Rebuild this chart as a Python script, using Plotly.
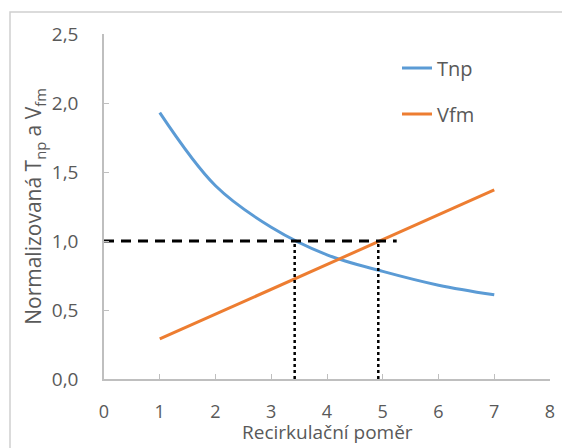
import plotly.graph_objects as go

x_ratio = [1, 2, 3, 4, 5, 6, 7]
tnp = [1.93, 1.40, 1.10, 0.90, 0.78, 0.68, 0.61]
vfm = [0.29, 0.47, 0.65, 0.83, 1.01, 1.19, 1.37]

ref_x = [0, 5.25]
ref_y = [1.0, 1.0]
cross_tnp = 3.42
cross_vfm = 4.92

x_title = "Recirkulační poměr"
y_title = "Normalizovaná T<sub>np</sub> a V<sub>fm</sub>"

W, H = 562, 448
L, R, T, B = 104, 12, 34, 69
pw, ph = W - L - R, H - T - B

FONT = "Open Sans, sans-serif"
GREY = "#595959"

fig = go.Figure()
fig.add_trace(go.Scatter(x=x_ratio, y=tnp, mode="lines", name="Tnp", legend="legend",
                         line=dict(color="#5B9BD5", width=3, shape="spline")))
fig.add_trace(go.Scatter(x=x_ratio, y=vfm, mode="lines", name="Vfm", legend="legend2",
                         line=dict(color="#ED7D31", width=3)))
fig.add_trace(go.Scatter(x=ref_x, y=ref_y, mode="lines", showlegend=False,
                         line=dict(color="black", width=3, dash="10px,7px")))
for cx in [cross_tnp, cross_vfm]:
    fig.add_trace(go.Scatter(x=[cx, cx], y=[0, 1.0], mode="lines", showlegend=False,
                             line=dict(color="black", width=2.5, dash="dot")))

# outer chart-area border (runs off the right and bottom edges as in the reference)
fig.add_shape(type="rect", xref="paper", yref="paper",
              x0=(10 - L) / pw, x1=(W + 20 - L) / pw,
              y0=(379 - 470) / ph, y1=(379 - 12) / ph,
              line=dict(color="#d0d0d0", width=1.5), layer="above")

# x-axis title as an annotation so it sits below the tick labels
fig.add_annotation(text=x_title, xref="paper", yref="paper", x=0.5, y=(379 - 447) / ph,
                   xanchor="center", yanchor="bottom", showarrow=False,
                   font=dict(size=19, color=GREY, family=FONT))

leg_common = dict(xanchor="left", yanchor="middle", bgcolor="rgba(0,0,0,0)",
                  font=dict(size=20, color=GREY, family=FONT))
fig.update_layout(
    width=W, height=H,
    margin=dict(l=L, r=R, t=T, b=B, autoexpand=False),
    paper_bgcolor="white", plot_bgcolor="white",
    separators=", ",
    font=dict(family=FONT, color=GREY, size=18),
    showlegend=True,
    legend=dict(x=(397 - L) / pw, y=(H - B - 68) / ph, **leg_common),
    legend2=dict(x=(397 - L) / pw, y=(H - B - 114) / ph, **leg_common),
    xaxis=dict(range=[0, 8], dtick=1, showgrid=False, zeroline=False, automargin=False,
               showline=True, linecolor="#bfbfbf", linewidth=1.5,
               ticks="inside", ticklen=5, tickcolor="#bfbfbf",
               tickfont=dict(size=18), ticklabelstandoff=16),
    yaxis=dict(range=[0, 2.5], dtick=0.5, tickformat=".1f", showgrid=False, zeroline=False,
               automargin=False,
               showline=True, linecolor="#bfbfbf", linewidth=1.5,
               ticks="inside", ticklen=5, tickcolor="#bfbfbf",
               tickfont=dict(size=19), ticklabelstandoff=20,
               title=dict(text=y_title, font=dict(size=21), standoff=4)),
)

post = ("document.documentElement.style.overflow='hidden';"
        "document.body.style.margin='0';document.body.style.overflow='hidden';"
        "var d=document.getElementById('{plot_id}');"
        "d.style.position='fixed';d.style.left='0px';d.style.top='0px';")
fig.write_html("out.html", post_script=post, config={"displayModeBar": False})
